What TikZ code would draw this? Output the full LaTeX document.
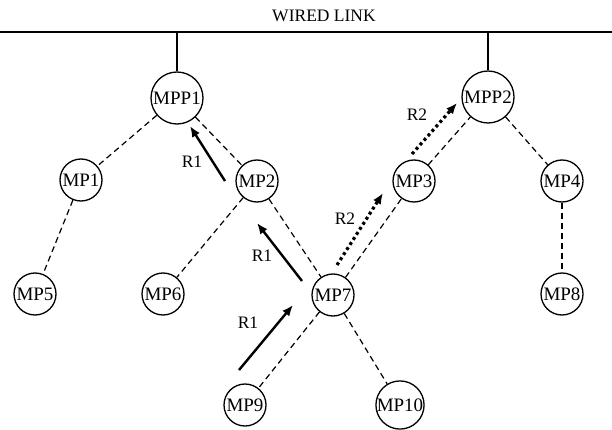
\documentclass[tikz,border=0pt]{standalone}
\usepackage{fontspec}
\setmainfont{Liberation Serif}
\usetikzlibrary{arrows.meta}

\begin{document}
\begin{tikzpicture}[x=1pt, y=-1pt,
    mp/.style={draw, circle, line width=1.3pt, minimum size=42pt, inner sep=0pt, font=\fontsize{19}{19}\selectfont},
    mpp/.style={mp, minimum size=52pt},
    link/.style={line width=1.2pt, dash pattern=on 6pt off 4pt},
    wire/.style={line width=1.4pt},
    route/.style={line width=2.4pt, -{Latex[length=11pt,width=9pt]}},
    route2/.style={line width=3.2pt, dash pattern=on 3pt off 3pt, -{Latex[length=11pt,width=9pt]}},
    lbl/.style={font=\fontsize{17.5}{17.5}\selectfont}]
                \useasboundingbox (0,0) rectangle (612,430);
                \coordinate (wl) at (0, 32);
                \coordinate (wr) at (612, 32);
                \node [lbl] (wired) at (324, 16) {WIRED LINK};
                \draw [line width=2pt] (wl) -- (wr);

                \node [mpp] (mpp1) at (177, 98) {MPP1};
                \node [mpp] (mpp2) at (488, 97) {MPP2};
                \node [mp] (mp1) at (81, 180) {MP1};
                \node [mp] (mp2) at (257, 181) {MP2};
                \node [mp] (mp3) at (414, 181) {MP3};
                \node [mp] (mp4) at (562, 181) {MP4};
                \node [mp] (mp5) at (35, 294) {MP5};
                \node [mp] (mp6) at (163, 294) {MP6};
                \node [mp] (mp7) at (333, 295) {MP7};
                \node [mp] (mp8) at (562, 294) {MP8};
                \node [mp] (mp9) at (245, 405) {MP9};
                \node [mp] (mp10) at (400, 405) {MP10};

                \draw [wire] (mpp1.north) -- (mpp1.north |- wl);
                \draw [wire] (mpp2.north) -- (mpp2.north |- wl);

                \draw [link] (mpp1) -- (mp1);
                \draw [link] (mpp1) -- (mp2);
                \draw [link] (mp1) -- (mp5);
                \draw [link] (mp2) -- (mp6);
                \draw [link] (mp2) -- (mp7);
                \draw [link] (mp7) -- (mp3);
                \draw [link] (mp3) -- (mpp2);
                \draw [link] (mpp2) -- (mp4);
                \draw [link] (mp4) -- (mp8);
                \draw [link] (mp7) -- (mp9);
                \draw [link] (mp7) -- (mp10);

                \coordinate (r1a) at (225, 181);
                \coordinate (r1b) at (190, 126);
                \coordinate (r1c) at (302, 281);
                \coordinate (r1d) at (257, 223);
                \coordinate (r1e) at (239, 370);
                \coordinate (r1f) at (293, 305);
                \coordinate (r2a) at (337, 265);
                \coordinate (r2b) at (383, 193);
                \coordinate (r2c) at (412, 154);
                \coordinate (r2d) at (457, 103);
                \draw [route] (r1a) -- (r1b);
                \draw [route] (r1c) -- (r1d);
                \draw [route] (r1e) -- (r1f);
                \draw [route2] (r2a) -- (r2b);
                \draw [route2] (r2c) -- (r2d);

                \node [lbl] (l1) at (192, 162) {R1};
                \node [lbl] (l2) at (262, 256) {R1};
                \node [lbl] (l3) at (248, 323) {R1};
                \node [lbl] (l4) at (345, 219) {R2};
                \node [lbl] (l5) at (417, 115) {R2};
\end{tikzpicture}
\end{document}
